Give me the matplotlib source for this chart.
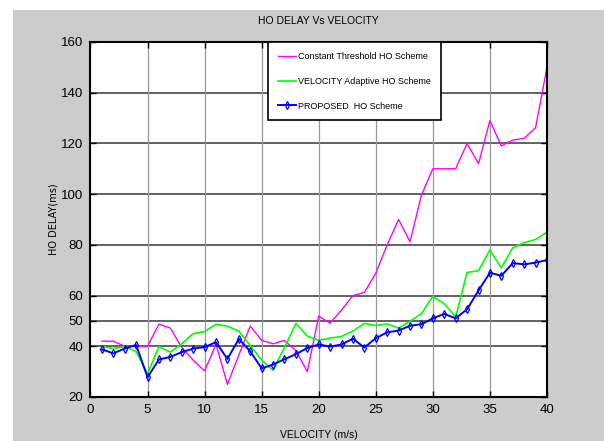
import matplotlib
matplotlib.use('Agg')
import matplotlib.pyplot as plt
from matplotlib.patches import Rectangle
import numpy as np

plt.rcParams['font.family'] = ['Liberation Sans', 'DejaVu Sans']

# velocity axis
velocity = np.arange(1, 41)

# Constant Threshold HO Scheme
constant_delay = [42, 42, 40, 40, 40, 48.7, 47.2, 39.5, 34.5, 30.3,
                  40.8, 25, 36.5, 48, 42.3, 41, 42.3, 38.3, 30, 51.9,
                  49.1, 54.3, 60, 61.2, 68.8, 80, 90, 81.2, 99.6, 110,
                  110, 110, 120, 112, 129, 119, 121.3, 122, 126.2, 150]

# VELOCITY Adaptive HO Scheme
adaptive_delay = [39.9, 39.1, 39.9, 37.9, 29.1, 39.9, 37.7, 41, 45, 45.8,
                  48.7, 47.9, 46, 40.3, 34.5, 30.5, 39.5, 49, 44, 42.4,
                  43.2, 43.9, 46, 49, 48.2, 48.8, 47.2, 49.8, 52.9, 59.6,
                  56.8, 51.6, 69.1, 69.8, 78, 70.9, 78.8, 80.9, 82.1, 85]

# PROPOSED HO Scheme
proposed_delay = [38.8, 37.2, 39.1, 40.5, 27.8, 34.8, 35.8, 37.7, 39.1, 39.7,
                  41.6, 35, 42.9, 38, 31.3, 32.8, 34.9, 36.9, 39.3, 40.7,
                  39.9, 40.7, 43, 39.5, 43.2, 45.5, 46.2, 48.1, 48.7, 51,
                  52.8, 51, 54.6, 62, 69, 67.8, 72.8, 72.3, 73, 74]

xticks = list(range(0, 41, 5))
yticks = [20, 40, 50, 60, 80, 100, 120, 140, 160]

fig = plt.figure(figsize=(6.04, 4.41), dpi=100, facecolor='white')
# gray figure panel (white strip at top and left)
fig.patches.append(Rectangle((13 / 604, 0), 1, 1 - 10 / 441, transform=fig.transFigure,
                             facecolor='#cccccc', edgecolor='none', zorder=-10))

ax = fig.add_axes([0.1498, 0.0998, 0.7558, 0.805])
ax.set_facecolor('white')

ax.plot(velocity, constant_delay, color='#ff00ff', lw=1.0,
        label='Constant Threshold HO Scheme')
ax.plot(velocity, adaptive_delay, color='#00ff00', lw=1.2,
        label='VELOCITY Adaptive HO Scheme')
ax.plot(velocity, proposed_delay, color='#0000ff', lw=1.4, marker='d',
        ms=4, mfc='none', mec='#0000ff', mew=0.9, label='PROPOSED  HO Scheme')

ax.set_xlim(0, 40)
ax.set_ylim(20, 160)
ax.set_xticks(xticks)
ax.set_yticks(yticks)
ax.tick_params(direction='in', length=4, width=1, top=True, right=True,
               labelsize=9.5, pad=5)
for s in ax.spines.values():
    s.set_linewidth(1.5)

for yv in yticks[1:-1]:
    ax.axhline(yv, color='#555555', lw=1.3, zorder=0)
for xv in xticks[1:-1]:
    ax.axvline(xv, color='#999999', lw=0.9, zorder=0)

ax.set_title('HO DELAY Vs VELOCITY', fontsize=7.5, pad=13)
ax.set_xlabel('VELOCITY (m/s)', fontsize=7.5, labelpad=10)
ax.set_ylabel('HO DELAY(ms)', fontsize=7, family='DejaVu Sans', labelpad=2)

leg = ax.legend(loc='upper left', bbox_to_anchor=(0.389, 1.0), borderaxespad=0,
                fontsize=6.5, handlelength=2.0, handletextpad=0.2,
                labelspacing=1.75, fancybox=False, framealpha=1,
                edgecolor='black', borderpad=1.1)
leg.get_frame().set_linewidth(1.2)

fig.savefig('out.png', dpi=100, facecolor=fig.get_facecolor())
